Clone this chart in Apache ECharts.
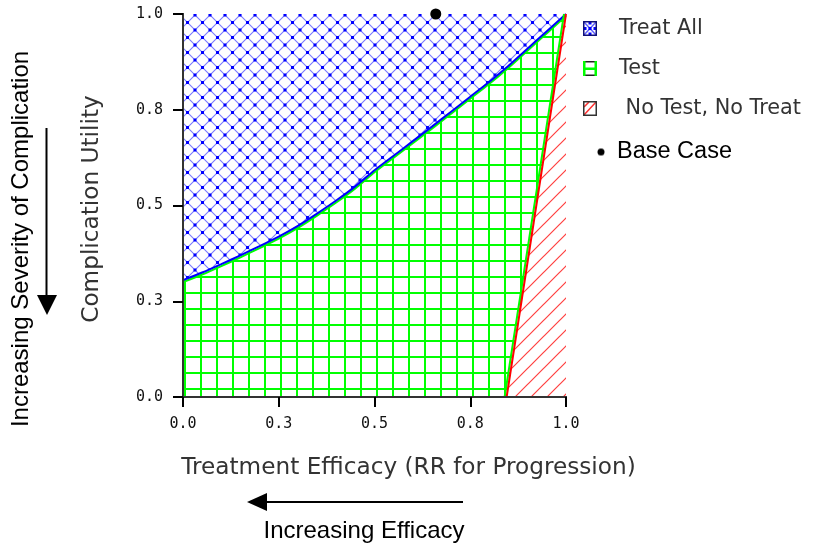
<!DOCTYPE html>
<html><head><meta charset="utf-8">
<script src="https://cdn.jsdelivr.net/npm/echarts@6/dist/echarts.min.js"></script>
<style>html,body{margin:0;padding:0;background:#fff}#c{width:822px;height:550px}</style>
</head><body><div id="c"></div>
<script>
// ---- data ----
const tickValues = [0, 0.25, 0.5, 0.75, 1];
const tickLabels = ['0.0', '0.3', '0.5', '0.8', '1.0'];
const curveX = [0, 0.05, 0.1, 0.15, 0.2, 0.25, 0.3, 0.35, 0.4, 0.45, 0.5, 0.55, 0.6, 0.65, 0.7, 0.75, 0.8, 0.85, 0.9, 0.95, 1];
const curveY = [0.305, 0.325, 0.347, 0.370, 0.394, 0.419, 0.447, 0.479, 0.513, 0.550, 0.592, 0.630, 0.668, 0.706, 0.745, 0.784, 0.823, 0.865, 0.910, 0.955, 1.0];
const treatAllX = [0, 1];
const treatAllY = [1, 1];
const noTestX = [0.845, 1];
const noTestY = [0, 1];
const baseCaseX = [0.66];
const baseCaseY = [1.0];
const seriesNames = ['Treat All', 'Test', 'No Test, No Treat', 'Base Case'];

// ---- patterns ----
function mk(w, h, draw) { const c = document.createElement('canvas'); c.width = w; c.height = h; const g = c.getContext('2d'); draw(g); return c; }
const blueTile = mk(15, 15, g => {
  g.fillStyle = '#fff'; g.fillRect(0, 0, 15, 15);
  g.strokeStyle = '#7a7aff'; g.lineWidth = 1.1; g.beginPath();
  g.moveTo(-1, -1); g.lineTo(16, 16); g.moveTo(16, -1); g.lineTo(-1, 16); g.stroke();
  g.fillStyle = '#0000ff';
  [[7.5, 7.5], [0, 0], [15, 0], [0, 15], [15, 15]].forEach(p => g.fillRect(p[0] - 1.5, p[1] - 1.5, 3, 3));
});
const greenTile = mk(16, 16, g => {
  g.fillStyle = '#fff'; g.fillRect(0, 0, 16, 16);
  g.fillStyle = '#00ff00'; g.fillRect(8, 0, 2, 16); g.fillRect(0, 4, 16, 2);
});
const redTile = mk(16, 16, g => {
  g.fillStyle = '#fff'; g.fillRect(0, 0, 16, 16);
  g.strokeStyle = '#ff4040'; g.lineWidth = 1.2; g.beginPath();
  g.moveTo(-2, 18); g.lineTo(18, -2); g.moveTo(-2, 2); g.lineTo(2, -2); g.moveTo(14, 18); g.lineTo(18, 14); g.stroke();
});
const bluePat = { image: blueTile, repeat: 'repeat' };
const greenPat = { image: greenTile, repeat: 'repeat' };
const redPat = { image: redTile, repeat: 'repeat' };

// ---- legend icons ----
const iconTreat = mk(31, 15, g => {
  g.fillStyle = '#fff'; g.fillRect(0, 0, 14, 15);
  g.strokeStyle = '#6060ff'; g.lineWidth = 1.5; g.beginPath(); g.moveTo(1, 1); g.lineTo(13, 14); g.moveTo(13, 1); g.lineTo(1, 14); g.stroke();
  g.fillStyle = '#0000ff'; [[7, 2], [2, 7.5], [12, 7.5], [7, 13], [7, 7.5]].forEach(p => g.fillRect(p[0] - 1.5, p[1] - 1.5, 3, 3));
  g.strokeStyle = '#10107a'; g.lineWidth = 1.5; g.strokeRect(0.75, 0.75, 12.5, 13.5);
}).toDataURL();
const iconTest = mk(31, 15, g => {
  g.fillStyle = '#fff'; g.fillRect(0, 0, 14, 15);
  g.strokeStyle = '#222'; g.lineWidth = 1.5; g.strokeRect(0.75, 0.75, 12.5, 13.5);
  g.fillStyle = '#00ff00'; g.fillRect(0, 0, 2.5, 15); g.fillRect(11.5, 0, 2.5, 15); g.fillRect(0, 6.5, 14, 2.5);
}).toDataURL();
const iconNo = mk(31, 15, g => {
  g.fillStyle = '#fff'; g.fillRect(0, 0, 14, 15);
  g.strokeStyle = '#ff3030'; g.lineWidth = 1.5; g.beginPath(); g.moveTo(1, 14); g.lineTo(13, 1); g.moveTo(1, 6); g.lineTo(6, 1); g.stroke();
  g.strokeStyle = '#333'; g.lineWidth = 1.5; g.strokeRect(0.75, 0.75, 12.5, 13.5);
}).toDataURL();
const iconDot = mk(29, 15, g => {
  g.fillStyle = '#000'; g.beginPath(); g.arc(18, 7.5, 3.5, 0, Math.PI * 2); g.fill();
}).toDataURL();

const zip = (xs, ys) => xs.map((x, i) => [x, ys[i]]);
const fmt = v => { const i = tickValues.indexOf(Math.round(v * 4) / 4); return i >= 0 ? tickLabels[i] : ''; };

const labelStyle = { fontFamily: 'DejaVu Sans Mono', fontSize: 15, color: '#111', margin: 20, formatter: fmt };
const axisCommon = {
  type: 'value', min: 0, max: 1, interval: 0.25, z: 5,
  axisLine: { show: true, lineStyle: { color: '#000', width: 2 } },
  axisTick: { show: true, length: 10, lineStyle: { color: '#000', width: 2 } },
  splitLine: { show: false }
};
const frameAxis = { type: 'value', min: 0, max: 1, z: 5, axisLine: { show: true, lineStyle: { color: '#333', width: 2 } }, axisTick: { show: false }, axisLabel: { show: false }, splitLine: { show: false } };

const chart = echarts.init(document.getElementById('c'), null, { renderer: 'canvas' });
chart.setOption({
  animation: false,
  backgroundColor: '#fff',
  grid: { left: 183, top: 14, width: 383, height: 383, containLabel: false },
  xAxis: [
    Object.assign({}, axisCommon, {
      position: 'bottom', axisLabel: labelStyle,
      name: 'Treatment Efficacy (RR for Progression)', nameLocation: 'middle', nameGap: 59,
      nameTextStyle: { fontFamily: 'DejaVu Sans', fontSize: 23.2, color: '#333', padding: [0, 0, 0, 68] }
    }),
    Object.assign({}, frameAxis, { position: 'top' })
  ],
  yAxis: [
    Object.assign({}, axisCommon, {
      position: 'left', axisLabel: labelStyle,
      name: 'Complication Utility', nameLocation: 'middle', nameGap: 80,
      nameTextStyle: { fontFamily: 'DejaVu Sans', fontSize: 23.2, color: '#333', padding: [0, 7, 0, 0] }
    }),
    Object.assign({}, frameAxis, { position: 'right' })
  ],
  legend: [
    {
      orient: 'vertical', left: 583, top: 18, padding: 0, itemGap: 19, itemWidth: 31, itemHeight: 15, selectedMode: false,
      data: [
        { name: seriesNames[0], icon: 'image://' + iconTreat },
        { name: seriesNames[1], icon: 'image://' + iconTest },
        { name: seriesNames[2], icon: 'image://' + iconNo }
      ],
      formatter: n => n === 'No Test, No Treat' ? ' ' + n : n,
      textStyle: { fontFamily: 'DejaVu Sans', fontSize: 20.8, color: '#333' }
    },
    {
      orient: 'vertical', left: 583, top: 140, padding: 0, itemWidth: 29, itemHeight: 15, selectedMode: false,
      data: [{ name: seriesNames[3], icon: 'image://' + iconDot }],
      textStyle: { fontFamily: 'Liberation Sans', fontSize: 23.5, color: '#000' }
    }
  ],
  series: [
    {
      name: seriesNames[0], type: 'line', data: zip(treatAllX, treatAllY), symbol: 'none', z: 1,
      lineStyle: { width: 0, opacity: 0 }, areaStyle: { color: bluePat, opacity: 1, origin: 'start' }
    },
    {
      name: seriesNames[1], type: 'line', data: zip(curveX, curveY), symbol: 'none', z: 2, smooth: 0.2,
      lineStyle: { color: '#0000ff', width: 2, shadowColor: '#00ff00', shadowOffsetY: 2, shadowOffsetX: 0, shadowBlur: 0 },
      areaStyle: { color: greenPat, opacity: 1, origin: 'start' }
    },
    {
      name: seriesNames[2], type: 'line', data: zip(noTestX, noTestY), symbol: 'none', z: 3,
      lineStyle: { color: '#ff0000', width: 2, shadowColor: '#00ff00', shadowOffsetX: -2, shadowOffsetY: 0, shadowBlur: 0 },
      areaStyle: { color: redPat, opacity: 1, origin: 'start' }
    },
    {
      name: seriesNames[3], type: 'scatter', data: zip(baseCaseX, baseCaseY), symbol: 'circle', symbolSize: 11,
      itemStyle: { color: '#000', opacity: 1 }, z: 10, clip: false
    }
  ],
  graphic: [
    { type: 'text', x: 21, y: 239, rotation: Math.PI / 2, style: { text: 'Increasing Severity of Complication', font: '24px "Liberation Sans"', fill: '#000', align: 'center', verticalAlign: 'middle' } },
    { type: 'line', shape: { x1: 46.5, y1: 128, x2: 46.5, y2: 297 }, style: { stroke: '#000', lineWidth: 2 } },
    { type: 'polygon', shape: { points: [[37, 295], [57, 295], [47, 315]] }, style: { fill: '#000' } },
    { type: 'line', shape: { x1: 265, y1: 502, x2: 463, y2: 502 }, style: { stroke: '#000', lineWidth: 2 } },
    { type: 'polygon', shape: { points: [[247, 502], [267, 493], [267, 511]] }, style: { fill: '#000' } },
    { type: 'text', x: 364, y: 531, style: { text: 'Increasing Efficacy', font: '24px "Liberation Sans"', fill: '#000', align: 'center', verticalAlign: 'middle' } }
  ]
});
</script>
</body></html>
